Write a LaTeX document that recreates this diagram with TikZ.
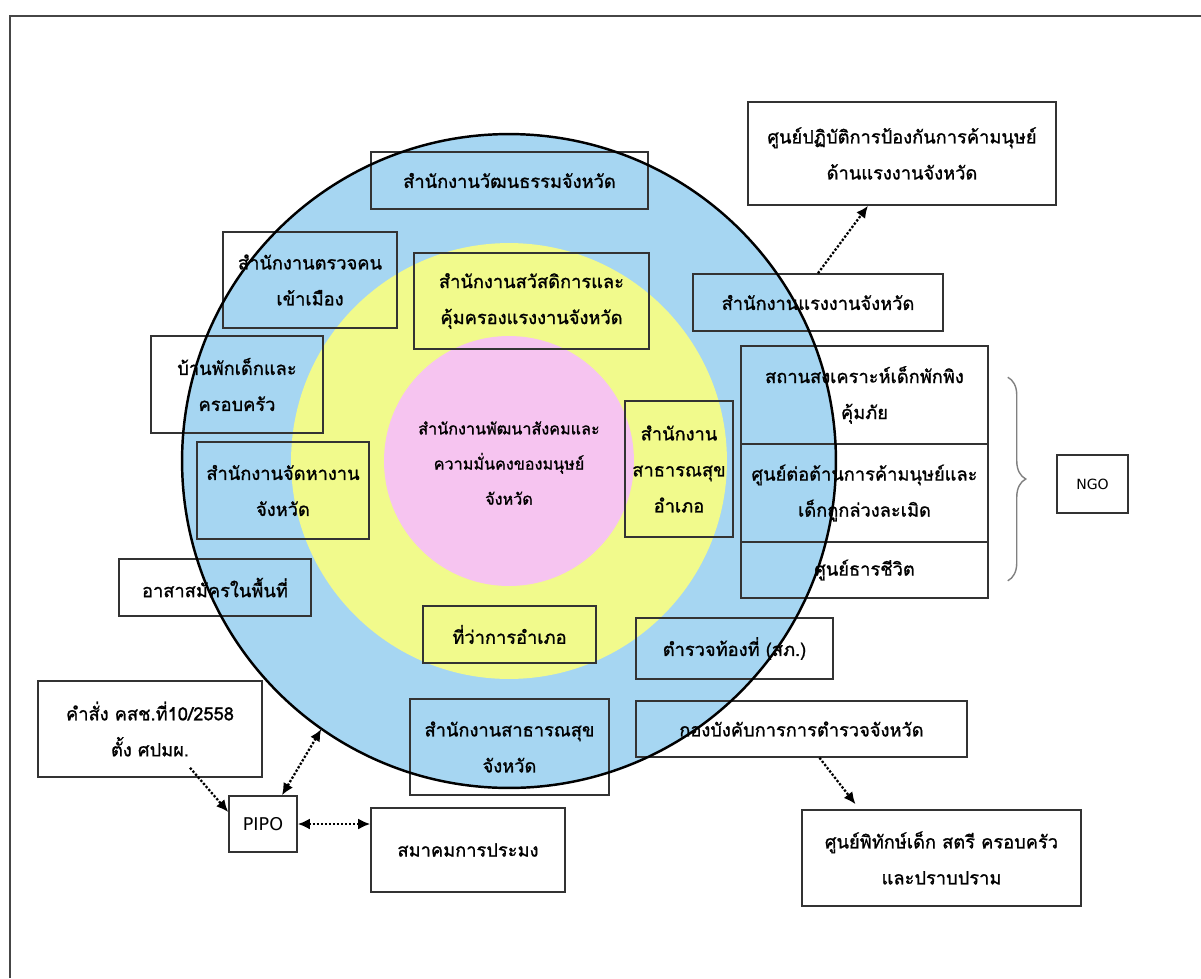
\documentclass[tikz,border=0pt]{standalone}
\usepackage{fontspec}
\newfontfamily\thaifont[Script=Thai,FakeBold=1.2]{Loma}
\newfontfamily\latinsans{DejaVu Sans}
\usepackage{tikz}
\usetikzlibrary{arrows.meta,calc,decorations.pathreplacing}
\definecolor{ringblue}{RGB}{166,214,242}
\definecolor{ringyellow}{RGB}{241,250,140}
\definecolor{ringpink}{RGB}{246,196,240}
\definecolor{framegray}{RGB}{70,70,70}

\begin{document}
\begin{tikzpicture}[x=0.02cm,y=-0.02cm,
  font=\thaifont\fontsize{10.4}{20.5}\selectfont,
  ring/.style={circle,inner sep=0pt},
  office/.style={draw=black!80,line width=0.9pt,inner sep=0pt,align=center},
  link/.style={densely dotted,line width=1.3pt,-{Latex[length=2.4mm,width=2.2mm]}},
  twoway/.style={link,{Latex[length=2.4mm,width=2.2mm]}-{Latex[length=2.4mm,width=2.2mm]}}]
\useasboundingbox (0,0) rectangle (1201,978);
\draw[framegray,line width=1.5pt] (10,978) -- (10,16) -- (1201,16);

% rings
\node[ring,fill=ringblue,minimum size=13.08cm] (outer) at (509,461) {};
\node[ring,fill=ringyellow,minimum size=8.72cm] (middle) at (outer.center) {};
\node[ring,fill=ringpink,minimum size=5cm] (inner) at (outer.center) {};
\node[align=center,font=\thaifont\fontsize{9.2}{20}\selectfont] (core) at ([yshift=-0.04cm]inner.center)
  {สำนักงานพัฒนาสังคมและ\\ความมั่นคงของมนุษย์\\จังหวัด};

% offices
\node[office,minimum width=5.54cm,minimum height=1.14cm] (culture) at (509.5,180.5) {สำนักงานวัฒนธรรมจังหวัด};
\node[office,minimum width=4.70cm,minimum height=1.92cm] (welfare) at (531.5,301) {สำนักงานสวัสดิการและ\\คุ้มครองแรงงานจังหวัด};
\node[office,minimum width=3.48cm,minimum height=1.92cm] (immigration) at (310,280) {สำนักงานตรวจคน\\เข้าเมือง};
\node[office,minimum width=6.16cm,minimum height=2.06cm] (labourcentre) at (902,153.5) {ศูนย์ปฏิบัติการป้องกันการค้ามนุษย์\\ด้านแรงงานจังหวัด};
\node[office,minimum width=5.00cm,minimum height=1.14cm] (labour) at (818,302.5) {สำนักงานแรงงานจังหวัด};
\node[office,minimum width=3.44cm,minimum height=1.94cm] (shelterhome) at (237,384.5) {บ้านพักเด็กและ\\ครอบครัว};
\node[office,minimum width=3.44cm,minimum height=1.94cm] (employment) at (283,490.5) {สำนักงานจัดหางาน\\จังหวัด};
\node[office,minimum width=3.84cm,minimum height=1.14cm] (volunteer) at (215,587.5) {อาสาสมัครในพื้นที่};
\node[office,minimum width=2.16cm,minimum height=2.72cm] (districthealth) at (679,469) {สำนักงาน\\สาธารณสุข\\อำเภอ};
\node[office,minimum width=4.94cm,minimum height=1.96cm] (shelter) at (864.5,395) {สถานสงเคราะห์เด็กพักพิง\\คุ้มภัย};
\node[office,minimum width=4.94cm,minimum height=1.96cm] (antitraffic) at (864.5,493) {ศูนย์ต่อต้านการค้ามนุษย์และ\\เด็กถูกล่วงละเมิด};
\node[office,minimum width=4.94cm,minimum height=1.12cm] (lifecentre) at (864.5,570) {ศูนย์ธารชีวิต};
\node[office,minimum width=1.42cm,minimum height=1.16cm,font=\latinsans\fontsize{8}{10}\selectfont] (ngo) at (1092.5,484) {NGO};
\node[office,minimum width=3.46cm,minimum height=1.14cm] (district) at (509.5,634.5) {ที่ว่าการอำเภอ};
\node[office,minimum width=3.94cm,minimum height=1.22cm] (localpolice) at (734.5,648.5) {ตำรวจท้องที่ (สภ.)};
\node[office,minimum width=3.98cm,minimum height=1.92cm] (provhealth) at (509.5,747) {สำนักงานสาธารณสุข\\จังหวัด};
\node[office,minimum width=6.62cm,minimum height=1.12cm] (policehq) at (801.5,729) {กองบังคับการการตำรวจจังหวัด};
\node[office,minimum width=5.58cm,minimum height=1.92cm] (protection) at (941.5,858) {ศูนย์พิทักษ์เด็ก สตรี ครอบครัว\\และปราบปราม};
\node[office,minimum width=4.48cm,minimum height=1.92cm] (order) at (150,729) {คำสั่ง คสช.ที่10/2558\\ตั้ง ศปมผ.};
\node[office,minimum width=1.36cm,minimum height=1.12cm,font=\latinsans\fontsize{10}{12}\selectfont] (pipo) at (263,824) {PIPO};
\node[office,minimum width=3.88cm,minimum height=1.68cm] (fishery) at (468,850) {สมาคมการประมง};

\draw[line width=1.4pt] (outer.center) circle[radius=6.54cm];

% links
\draw[link] (labour.north) -- ([shift={(-34,0)}]labourcentre.south);
\draw[link] ([shift={(18,0)}]policehq.south) -- ([shift={(-86,-5)}]protection.north);
\draw[link] ([shift={(40,-10)}]order.south) -- ([shift={(0,-12)}]pipo.west);
\draw[twoway] (outer.235) -- ([shift={(19,0)}]pipo.north);
\draw[twoway] (pipo.east) -- (fishery.west |- pipo.east);
\draw[gray,line width=0.8pt,decorate,decoration={brace,amplitude=0.36cm}]
  ([shift={(19,32)}]shelter.north east) -- ([shift={(19,-18)}]lifecentre.south east);
\end{tikzpicture}
\end{document}
